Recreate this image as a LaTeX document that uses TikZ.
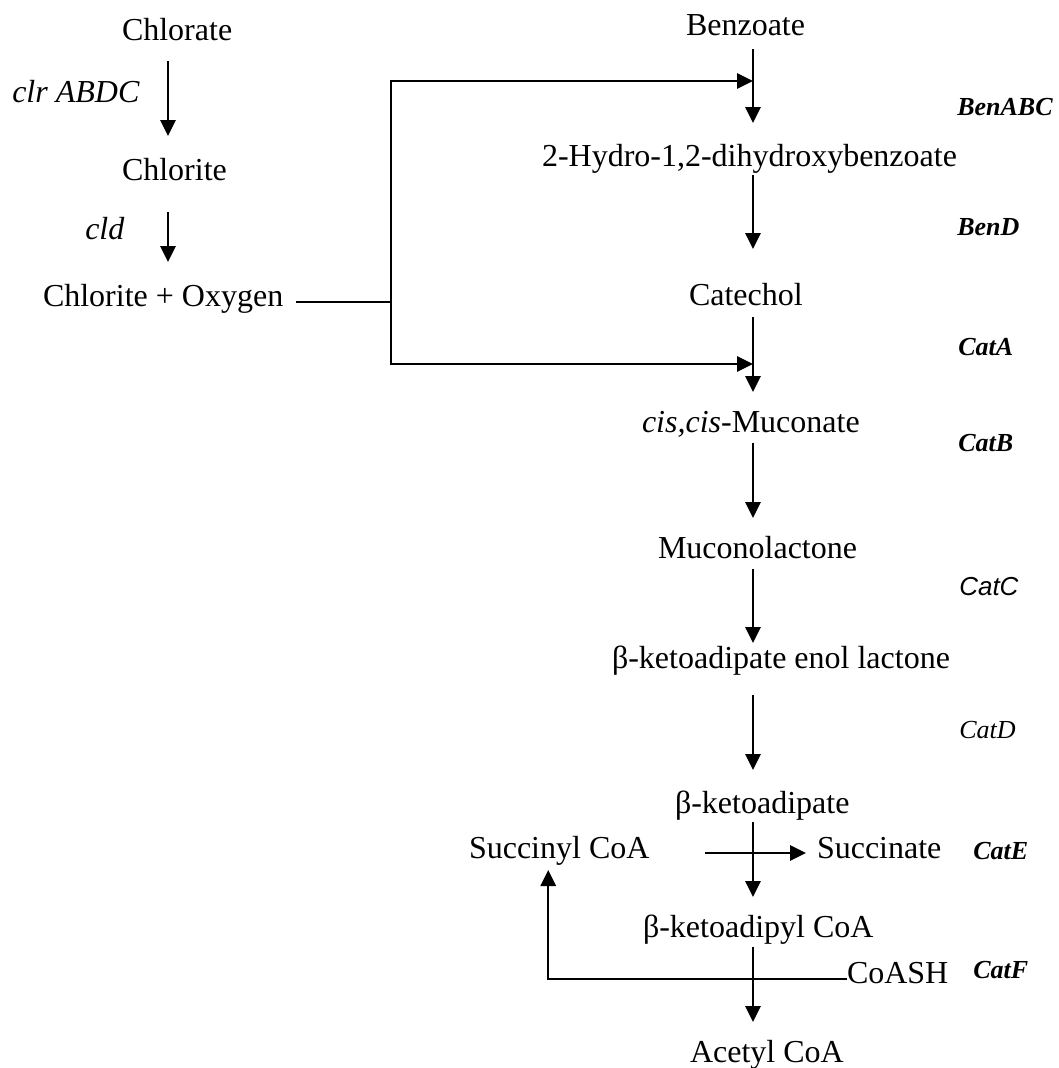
\documentclass[tikz,border=0pt]{standalone}
\usepackage{fontspec}
\setmainfont{Liberation Serif}
\newfontfamily\arialfont{Liberation Sans}
\usetikzlibrary{arrows.meta}

\begin{document}
\begin{tikzpicture}[x=0.75pt, y=-0.75pt,
    cmpd/.style={anchor=base west, inner sep=0pt, outer sep=0pt, text height=16.5pt, text depth=5pt, font=\fontsize{24}{28}\selectfont},
    gene/.style={anchor=base west, inner sep=0pt, font=\fontsize{24}{28}\selectfont\itshape},
    enz/.style={anchor=base west, inner sep=0pt, font=\fontsize{19.5}{23}\selectfont\bfseries\itshape},
    link/.style={line width=1.4pt},
    tip/.style={-{Triangle[length=12pt,width=11.5pt]}},
    rxn/.style={link, tip, shorten <=3pt, shorten >=13.5pt}]
    \useasboundingbox (0,0) rectangle (1058,1068);

    % chlorate side
    \node[cmpd] (chlorate) at (122,40) {Chlorate};
    \node[gene] (clr) at (12,102) {clr ABDC};
    \node[cmpd] (chlorite) at (122,180) {Chlorite};
    \node[gene] (cld) at (85,239) {cld};
    \node[cmpd] (oxy) at (43,306) {Chlorite + Oxygen};

    % benzoate pathway
    \node[cmpd] (benzoate) at (686,35) {Benzoate};
    \node[cmpd] (hydro) at (542,166) {2-Hydro-1,2-dihydroxybenzoate};
    \node[cmpd] (catechol) at (689,305) {Catechol};
    \node[cmpd] (muconate) at (642,432) {\textit{cis,cis}-Muconate};
    \node[cmpd] (lactone) at (658,558) {Muconolactone};
    \node[cmpd] (enol) at (612,668) {β-ketoadipate enol lactone};
    \node[cmpd] (keto) at (675,813) {β-ketoadipate};
    \node[cmpd] (succinyl) at (469,858) {Succinyl CoA};
    \node[cmpd] (succinate) at (817,858) {Succinate};
    \node[cmpd] (ketocoa) at (643,937) {β-ketoadipyl CoA};
    \node[cmpd] (coash) at (847,983) {CoASH};
    \node[cmpd] (acetyl) at (690,1062) {Acetyl CoA};

    % enzymes
    \node[enz] (benabc) at (957,115) {BenABC};
    \node[enz] (bend) at (957,235) {BenD};
    \node[enz] (cata) at (958,355) {CatA};
    \node[enz] (catb) at (958,451) {CatB};
    \node[enz, font=\fontsize{19.5}{23}\selectfont\arialfont\itshape] (catc) at (959,595) {CatC};
    \node[enz, font=\fontsize{19.5}{23}\selectfont\itshape] (catd) at (959,738) {CatD};
    \node[enz] (cate) at (973,859) {CatE};
    \node[enz] (catf) at (973,978) {CatF};

    \coordinate (lcol) at (168,0);
    \coordinate (col) at (753,0);
    \coordinate (split) at (391,302);
    \coordinate (inBen) at (753,81);
    \coordinate (inCat) at (753,364);
    \coordinate (sucIn) at (705,853);

    \draw[rxn, shorten <=10.75pt, shorten >=16.5pt] (chlorate.south -| lcol) -- (chlorite.north -| lcol);
    \draw[rxn, shorten <=19pt, shorten >=16.5pt] (chlorite.south -| lcol) -- (oxy.north -| lcol);

    \draw[rxn, shorten <=5.5pt, shorten >=15.75pt] (benzoate.south -| col) -- (hydro.north -| col);
    \draw[rxn, shorten <=1.75pt, shorten >=25.5pt] (hydro.south -| col) -- (catechol.north -| col);
    \draw[rxn, shorten <=4pt] (catechol.south -| col) -- (muconate.north -| col);
    \draw[rxn] (muconate.south -| col) -- (lactone.north -| col);
    \draw[rxn, shorten >=2.25pt] (lactone.south -| col) -- (enol.north -| col);
    \draw[rxn, shorten <=15.25pt, shorten >=15.75pt] (enol.south -| col) -- (keto.north -| col);
    \draw[rxn, shorten <=1.75pt] (keto.south -| col) -- (ketocoa.north -| col);
    \draw[rxn, shorten <=2.5pt] (ketocoa.south -| col) -- (acetyl.north -| col);

    % oxygen feeds both dioxygenases
    \draw[link, shorten <=9.75pt] (oxy.base east |- split) -- (split);
    \draw[link, tip] (split) |- (inBen);
    \draw[link, tip] (split) |- (inCat);

    \draw[link, tip, shorten >=8.25pt] (sucIn) -- (sucIn -| succinate.west);
    \draw[link, tip, shorten >=4pt] ([yshift=3pt]coash.base west) -| ([xshift=-8.25pt]succinyl.south);
\end{tikzpicture}
\end{document}
